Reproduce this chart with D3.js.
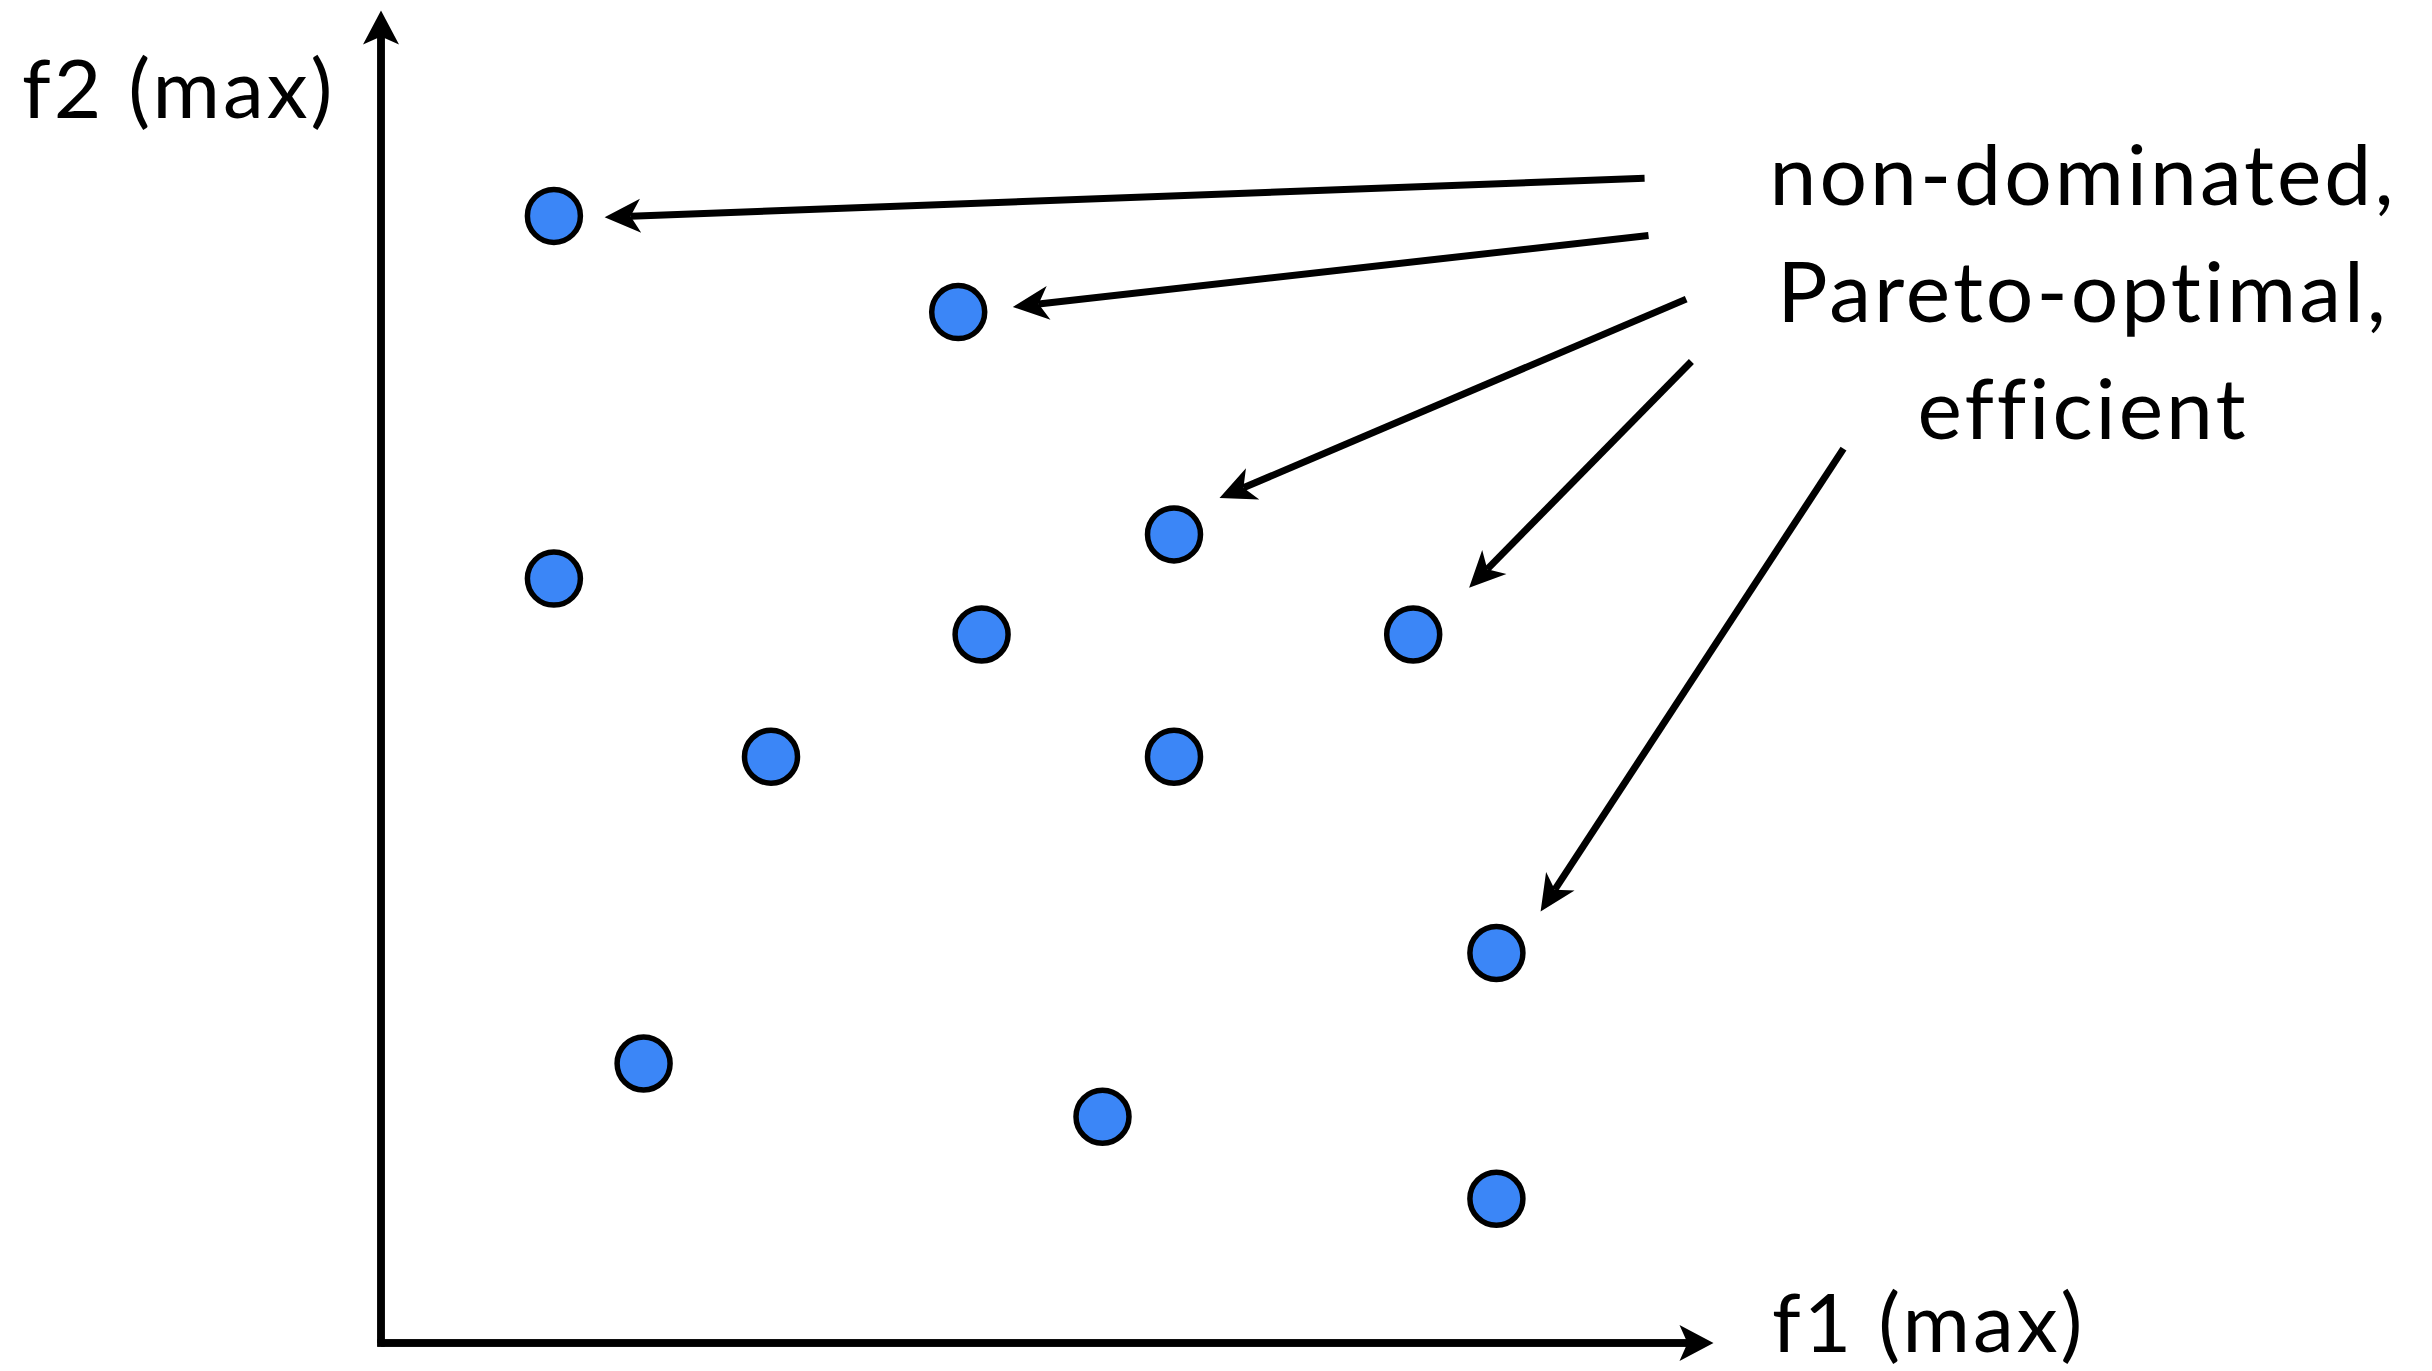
<!DOCTYPE html>
<html>
<head>
<meta charset="utf-8">
<script src="https://cdn.jsdelivr.net/npm/d3@7"></script>
<style>
  html, body { margin: 0; padding: 0; background: #ffffff; }
  svg { display: block; }
</style>
</head>
<body>
<script>
// ---- Data ----
const pointF1 = [1.33, 4.44, 6.10, 1.33, 4.62, 7.94, 3.00, 6.10, 8.58, 2.02, 5.55, 8.58];
const pointF2 = [8.67, 7.93, 6.22, 5.88, 5.45, 5.45, 4.51, 4.51, 3.00, 2.15, 1.74, 1.11];

// annotation arrows: start (f1,f2) and tip (f1,f2)
const arrowStartF1 = [9.72, 9.75, 10.04, 10.08, 11.25];
const arrowStartF2 = [8.96, 8.52, 8.03, 7.55, 6.88];
const arrowTipF1   = [1.72, 4.86, 6.45, 8.37, 8.92];
const arrowTipF2   = [8.66, 7.97, 6.50, 5.81, 3.32];

const xAxisLabel = "f1 (max)";
const yAxisLabel = "f2 (max)";
const annotationLines = ["non-dominated,", "Pareto-optimal,", "efficient"];
const axisMax = 10.25;

// ---- Layout ----
const W = 2432, H = 1371;
const svg = d3.select("body").append("svg").attr("width", W).attr("height", H);

const x = d3.scaleLinear().domain([0, 10]).range([381, 1681]);
const y = d3.scaleLinear().domain([0, 10]).range([1343, 43]);

function arrow(g, x0, y0, x1, y1, sw, L, Wd, notch) {
  const dx = x1 - x0, dy = y1 - y0, len = Math.hypot(dx, dy);
  const ux = dx / len, uy = dy / len, nx = -uy, ny = ux;
  g.append("line")
    .attr("x1", x0).attr("y1", y0)
    .attr("x2", x1 - ux * notch).attr("y2", y1 - uy * notch)
    .attr("stroke", "#000").attr("stroke-width", sw);
  const pts = [
    [x1, y1],
    [x1 - ux * L + nx * Wd, y1 - uy * L + ny * Wd],
    [x1 - ux * notch, y1 - uy * notch],
    [x1 - ux * L - nx * Wd, y1 - uy * L - ny * Wd]
  ];
  g.append("path").attr("d", "M" + pts.map(p => p.join(",")).join("L") + "Z").attr("fill", "#000");
}

// axes
const axes = svg.append("g");
axes.append("line")
  .attr("x1", x(0)).attr("y1", y(0) + 3.75)
  .attr("x2", x(0)).attr("y2", y(axisMax) + 24)
  .attr("stroke", "#000").attr("stroke-width", 7.5);
arrow(axes, x(0), y(0), x(0), y(axisMax), 7.5, 34, 18, 26);
axes.append("line")
  .attr("x1", x(0) - 3.75).attr("y1", y(0))
  .attr("x2", x(axisMax) - 24).attr("y2", y(0))
  .attr("stroke", "#000").attr("stroke-width", 7.5);
arrow(axes, x(0), y(0), x(axisMax), y(0), 7.5, 34, 18, 26);

// annotation arrows
const ann = svg.append("g");
arrowStartF1.forEach((_, i) => {
  arrow(ann, x(arrowStartF1[i]), y(arrowStartF2[i]), x(arrowTipF1[i]), y(arrowTipF2[i]), 7, 36, 17, 26);
});

// points
svg.append("g").selectAll("circle")
  .data(pointF1.map((v, i) => [v, pointF2[i]]))
  .join("circle")
  .attr("cx", d => x(d[0]))
  .attr("cy", d => y(d[1]))
  .attr("r", 26.5)
  .attr("fill", "#3b86f7")
  .attr("stroke", "#000")
  .attr("stroke-width", 5.5);

// labels
const font = "Lato, 'Open Sans', sans-serif";
svg.append("text")
  .attr("x", 22).attr("y", 118)
  .attr("font-family", font).attr("font-size", 82).attr("font-weight", 400)
  .attr("letter-spacing", 3)
  .attr("fill", "#000")
  .text(yAxisLabel);
svg.append("text")
  .attr("x", 1772).attr("y", 1352)
  .attr("font-family", font).attr("font-size", 82).attr("font-weight", 400)
  .attr("letter-spacing", 3)
  .attr("fill", "#000")
  .text(xAxisLabel);

svg.append("g").selectAll("text")
  .data(annotationLines)
  .join("text")
  .attr("x", 2083)
  .attr("y", (d, i) => 205 + i * 117)
  .attr("text-anchor", "middle")
  .attr("font-family", font).attr("font-size", 84).attr("font-weight", 400)
  .attr("letter-spacing", 3)
  .attr("fill", "#000")
  .text(d => d);
</script>
</body>
</html>
